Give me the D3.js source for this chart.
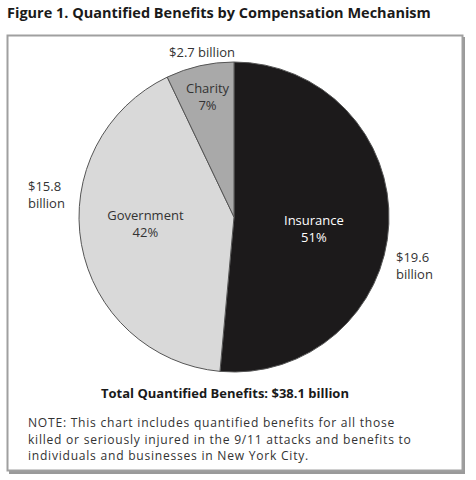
<!DOCTYPE html>
<html>
<head>
<meta charset="utf-8">
<script src="https://cdn.jsdelivr.net/npm/d3@7"></script>
<style>
  html, body { margin: 0; padding: 0; background: #fff; }
  svg { display: block; font-family: "Open Sans", sans-serif; }
</style>
</head>
<body>
<svg id="chart" width="476" height="480"></svg>
<script>
const title = "Figure 1. Quantified Benefits by Compensation Mechanism";
const categories = ["Insurance", "Government", "Charity"];
const values = [19.6, 15.8, 2.7];
const percentLabels = ["51%", "42%", "7%"];
const amountLabels = [["$19.6", "billion"], ["$15.8", "billion"], ["$2.7 billion"]];
const colors = ["#1c1a1b", "#d9d9d9", "#a9a9a9"];
const totalLabel = "Total Quantified Benefits: $38.1 billion";
const noteLines = [
  "NOTE: This chart includes quantified benefits for all those",
  "killed or seriously injured in the 9/11 attacks and benefits to",
  "individuals and businesses in New York City."
];

const svg = d3.select("#chart");
const textColor = "#333333";

// title
svg.append("text").attr("x", 7).attr("y", 18)
  .attr("font-size", 14.5).attr("font-weight", "bold").attr("fill", "#1a1a1a")
  .text(title);

// frame shadow + box
svg.append("rect").attr("x", 9).attr("y", 37).attr("width", 456).attr("height", 437)
  .attr("fill", "#9a9a9a");
svg.append("rect").attr("x", 7.5).attr("y", 35.5).attr("width", 455).attr("height", 435)
  .attr("fill", "#fff").attr("stroke", "#a0a0a0").attr("stroke-width", 2);

const cx = 234, cy = 217, R = 155;
const g = svg.append("g").attr("transform", `translate(${cx},${cy})`);

const data = categories.map((c, i) => ({ name: c, value: values[i], i }));
const pie = d3.pie().value(d => d.value).sort(null);
const arcs = pie(data);
const arc = d3.arc().innerRadius(0).outerRadius(R);

g.selectAll("path").data(arcs).join("path")
  .attr("d", arc)
  .attr("fill", d => colors[d.data.i])
  .attr("stroke", "#555")
  .attr("stroke-width", 1);

// inner labels
const labelR = [80, 90, 120];
const labelDy = [7, -9.5, -4];
const innerFill = ["#ffffff", "#333333", "#333333"];
arcs.forEach((a, k) => {
  const ang = (a.startAngle + a.endAngle) / 2;
  const lx = labelR[k] * Math.sin(ang), ly = -labelR[k] * Math.cos(ang) + labelDy[k];
  const t = g.append("text").attr("text-anchor", "middle")
    .attr("font-size", 13).attr("fill", innerFill[k]);
  t.append("tspan").attr("x", lx).attr("y", ly - 3).text(a.data.name);
  t.append("tspan").attr("x", lx).attr("y", ly + 14).text(percentLabels[k]);
});

// outer amount labels
const ins = g.append("text").attr("font-size", 13).attr("fill", textColor).attr("text-anchor", "start");
ins.append("tspan").attr("x", 162).attr("y", 45).text(amountLabels[0][0]);
ins.append("tspan").attr("x", 162).attr("y", 62).text(amountLabels[0][1]);
const gov = g.append("text").attr("font-size", 13).attr("fill", textColor).attr("text-anchor", "start");
gov.append("tspan").attr("x", -206).attr("y", -26).text(amountLabels[1][0]);
gov.append("tspan").attr("x", -206).attr("y", -9).text(amountLabels[1][1]);
g.append("text").attr("font-size", 13).attr("fill", textColor).attr("text-anchor", "middle")
  .attr("x", -32).attr("y", -160).text(amountLabels[2][0]);

// total
svg.append("text").attr("x", 225).attr("y", 398).attr("text-anchor", "middle")
  .attr("font-size", 13).attr("font-weight", "bold").attr("fill", "#1a1a1a")
  .text(totalLabel);

// note
noteLines.forEach((line, i) => {
  svg.append("text").attr("x", 28).attr("y", 427 + i * 16.5)
    .attr("font-size", 12.1).attr("letter-spacing", 0.75).attr("fill", textColor).text(line);
});
</script>
</body>
</html>
